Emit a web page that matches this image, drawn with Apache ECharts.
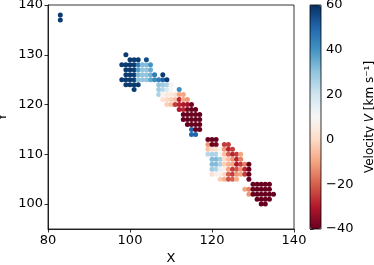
<!DOCTYPE html>
<html><head><meta charset="utf-8">
<script src="https://cdn.jsdelivr.net/npm/echarts@6/dist/echarts.min.js"></script>
<style>html,body{margin:0;padding:0;background:#fff}#c{width:374px;height:265px}</style>
</head><body><div id="c"></div>
<script>
// [X, Y, velocity]
const pointsBlue = [
[83,138,58],[83,137,58],
[99,130,58],
[100,129,58],[101,129,58],[102,129,58],[104,129,55],
[98,128,58],[99,128,58],[100,128,58],[101,128,58],[102,128,45],[103,128,32],[104,128,32],[105,128,40],
[99,127,58],[100,127,58],[101,127,58],[102,127,38],[103,127,30],[104,127,30],[105,127,35],
[99,126,58],[100,126,58],[101,126,58],[102,126,33],[103,126,30],[104,126,30],[105,126,34],[106,126,45],[108,126,58],
[98,125,58],[99,125,58],[100,125,58],[101,125,58],[102,125,30],[103,125,30],[104,125,30],[105,125,36],[106,125,42],[107,125,45],[108,125,50],[109,125,58],
[99,124,58],[100,124,58],[101,124,58],[102,124,58],
[101,123,58]
];
const pointsMid = [
[107,124,30],[108,124,28],[109,124,26],[110,124,8],
[107,123,28],[108,123,24],[109,123,18],[110,123,10],[112,123,42],
[107,122,26],[108,122,8],[109,122,5],[110,122,5],[111,122,2],[112,122,-10],[113,122,-10],
[108,121,2],[109,121,0],[110,121,-2],[111,121,-5],[112,121,-28],[113,121,-10],[114,121,-12],
[109,120,-2],[110,120,-5],[111,120,-25],[112,120,-28],[113,120,-30],[114,120,-32],[115,120,-38],
[112,119,-30],[113,119,-28],[114,119,-38],[115,119,-40],[116,119,-40],
[113,118,-40],[114,118,-40],[115,118,-40],[116,118,-40],[117,118,-40],
[113,117,-40],[114,117,-40],[115,117,-40],[116,117,-40],[117,117,-40],
[114,116,-40],[115,116,-40],[116,116,-40],[117,116,-40],
[115,115,50],[116,115,-40],[117,115,-40],
[115,114,50],[116,114,50]
];
const pointsLower = [
[119,113,-40],[120,113,-40],[121,113,-40],
[119,112,-12],[120,112,-40],[121,112,-38],[123,112,-25],[124,112,-25],
[119,111,-5],[120,111,0],[121,111,2],[122,111,8],[123,111,-12],[124,111,-28],[125,111,-25],
[119,110,24],[120,110,26],[121,110,26],[122,110,10],[123,110,-5],[124,110,-20],[125,110,-28],[126,110,-25],[127,110,-10],
[120,109,32],[121,109,32],[122,109,28],[123,109,0],[124,109,-5],[125,109,-12],[126,109,-28],[127,109,-15],
[120,108,32],[121,108,32],[122,108,26],[123,108,-2],[124,108,-8],[125,108,-10],[126,108,-30],[127,108,-25],[128,108,-15],[129,108,-40],
[120,107,28],[121,107,26],[122,107,14],[123,107,8],[124,107,-10],[125,107,-25],[126,107,-22],[127,107,-12],[128,107,-28],[129,107,-40],
[120,106,2],[121,106,8],[122,106,8],[123,106,0],[124,106,-20],[125,106,-25],[126,106,-12],[127,106,-10],[128,106,-25],[129,106,-40],
[122,105,-3],[123,105,-8],[124,105,-22],[125,105,-20],[126,105,-8],[129,105,-40]
];
const pointsEnd = [
[130,104,-40],[131,104,-40],[132,104,-40],[133,104,-40],[134,104,-40],
[128,103,-10],[129,103,-15],[130,103,-40],[131,103,-40],[132,103,-40],[133,103,-40],[134,103,-40],
[129,102,-12],[130,102,-40],[131,102,-40],[132,102,-40],[133,102,-40],[134,102,-40],[135,102,-40],
[131,101,-40],[132,101,-40],[133,101,-40],[134,101,-40],
[132,100,-40],[133,100,-40]
];
const xTicks = [80,100,120,140];
const yTicks = [100,110,120,130,140];
const cbarTicks = [-40,-20,0,20,40,60];
const rdbu = ['#67001f','#b2182b','#d6604d','#f4a582','#fddbc7','#f7f7f7','#d1e5f0','#92c5de','#4393c3','#2166ac','#053061'];

const font = 'DejaVu Sans';
const fs = 13;
const minus = v => String(v).replace('-', '\u2212');
const chart = echarts.init(document.getElementById('c'), null, {renderer:'canvas'});
chart.setOption({
  animation:false,
  backgroundColor:'#fff',
  textStyle:{fontFamily:font},
  grid:[
    {left:48,top:5,width:246,height:224,containLabel:false,outerBoundsMode:'none',show:true,borderColor:'#000',borderWidth:0.8,backgroundColor:'transparent',z:10},
    {left:310,top:5,width:11,height:224,containLabel:false,outerBoundsMode:'none',show:true,borderColor:'#000',borderWidth:0.8,backgroundColor:'transparent',z:10}
  ],
  xAxis:[
    {gridIndex:0,type:'value',min:80,max:140,
     name:'X',nameLocation:'middle',nameGap:22,nameTextStyle:{fontSize:fs,color:'#000',fontFamily:font},
     axisLine:{show:true,lineStyle:{color:'#000',width:0.8}},
     axisTick:{show:true,length:3.5,lineStyle:{color:'#000',width:0.8},customValues:xTicks},
     axisLabel:{fontSize:fs,color:'#000',margin:5,fontFamily:font,customValues:xTicks},
     splitLine:{show:false}},
    {gridIndex:1,type:'value',min:0,max:1,show:false}
  ],
  yAxis:[
    {gridIndex:0,type:'value',min:95,max:140,
     name:'Y',nameLocation:'middle',nameGap:39,nameRotate:90,nameMoveOverlap:false,nameTextStyle:{fontSize:fs,color:'#000',fontFamily:font},
     axisLine:{show:true,lineStyle:{color:'#000',width:0.8}},
     axisTick:{show:true,length:3.5,lineStyle:{color:'#000',width:0.8},customValues:yTicks},
     axisLabel:{fontSize:fs,color:'#000',margin:5,fontFamily:font,customValues:yTicks},
     splitLine:{show:false}},
    {gridIndex:1,type:'value',min:-40,max:60,interval:20,position:'right',
     name:'Velocity {i|V} [km s\u207B\u00B9]',nameLocation:'middle',nameGap:43,nameRotate:90,
     nameTextStyle:{fontSize:12,color:'#000',fontFamily:font,rich:{i:{fontStyle:'italic',fontSize:12,fontFamily:font}}},
     axisLine:{show:false},
     axisTick:{show:true,length:3.5,lineStyle:{color:'#000',width:0.8}},
     axisLabel:{fontSize:fs,color:'#000',margin:5,fontFamily:font,formatter:minus},
     splitLine:{show:false}}
  ],
  visualMap:{
    type:'continuous',min:-40,max:60,dimension:2,seriesIndex:0,
    inRange:{color:rdbu},
    orient:'vertical',left:310,top:5,itemWidth:11,itemHeight:224,padding:0,
    calculable:false,hoverLink:false,text:null,showLabel:false
  },
  series:[{
    type:'scatter',xAxisIndex:0,yAxisIndex:0,
    symbol:'circle',symbolSize:5,
    itemStyle:{opacity:1},
    data:[].concat(pointsBlue,pointsMid,pointsLower,pointsEnd)
  }]
});
</script></body></html>
